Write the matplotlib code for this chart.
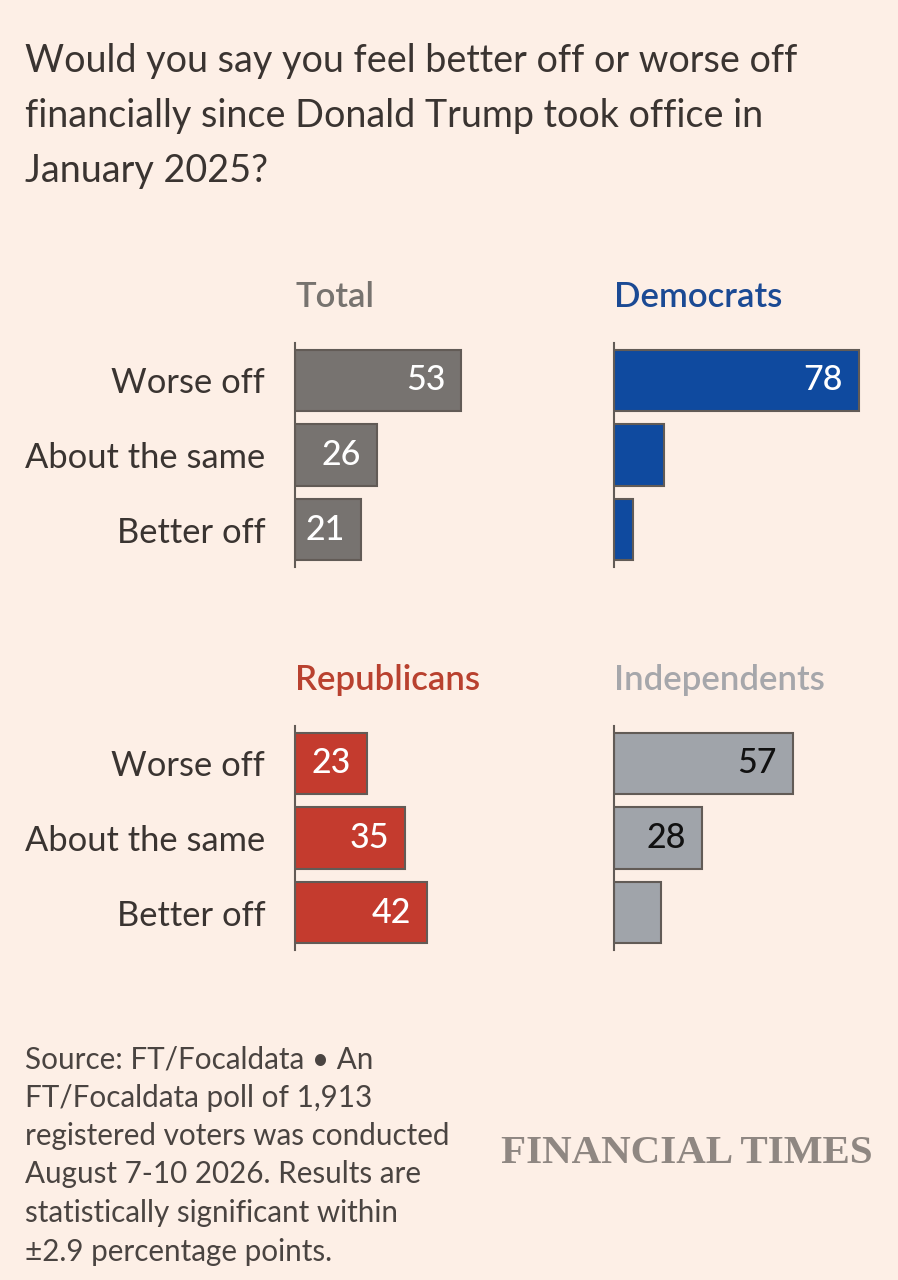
import matplotlib
matplotlib.use("Agg")
import matplotlib.pyplot as plt

# data
categories = ["Worse off", "About the same", "Better off"]
groups = ["Total", "Democrats", "Republicans", "Independents"]
total = [53, 26, 21]
democrats = [78, 16, 6]
republicans = [23, 35, 42]
independents = [57, 28, 15]

title_lines = ["Would you say you feel better off or worse off",
               "financially since Donald Trump took office in",
               "January 2025?"]
source_lines = ["Source: FT/Focaldata \u2022 An",
                "FT/Focaldata poll of 1,913",
                "registered voters was conducted",
                "August 7-10 2026. Results are",
                "statistically significant within",
                "\u00b12.9 percentage points."]

BG = "#fdefe6"
EDGE = "#625b56"
bar_colors = ["#777370", "#0f4a9f", "#c43b2e", "#a0a4aa"]
head_colors = ["#77736f", "#1b4a94", "#b9412f", "#a6a7ab"]
label_colors = ["white", "white", "white", "#111111"]

W, H = 898, 1280
plt.rcParams["font.family"] = ["Lato", "DejaVu Sans"]

fig = plt.figure(figsize=(W / 100, H / 100), dpi=100, facecolor=BG)

def px(x, y):
    return x / W, 1 - y / H

for i, line in enumerate(title_lines):
    fig.text(*px(25, 72 + 55 * i), line, fontsize=27.2, color="#3a3431",
             va="baseline", ha="left")

series = [total, democrats, republicans, independents]
lefts = [295, 614, 295, 614]
tops = [343, 343, 726, 726]
ax_w, ax_h = 270, 224
scale = 3.14  # pixels per percentage point

for k, vals in enumerate(series):
    l, t = lefts[k], tops[k]
    ax = fig.add_axes([l / W, 1 - (t + ax_h) / H, ax_w / W, ax_h / H])
    ax.set_facecolor(BG)
    ypos = range(len(categories))
    ax.barh(ypos, vals, height=0.82, color=bar_colors[k], edgecolor=EDGE,
            linewidth=1.5, zorder=2)
    ax.set_xlim(0, ax_w / scale)
    ax.set_ylim(2.5, -0.5)
    for s in ["top", "right", "bottom"]:
        ax.spines[s].set_visible(False)
    ax.spines["left"].set_color(EDGE)
    ax.spines["left"].set_linewidth(1.5)
    ax.spines["left"].set_zorder(3)
    ax.set_xticks([])
    ax.set_yticks(list(ypos))
    if k % 2 == 0:
        ax.set_yticklabels(categories, fontsize=24.8, color="#3a3431")
        ax.tick_params(axis="y", length=0, pad=21.5)
    else:
        ax.set_yticklabels([])
        ax.tick_params(axis="y", length=0)
    for y, v in zip(ypos, vals):
        if v >= 20:
            ax.annotate(str(v), (v, y), xytext=(-11.5, 0),
                        textcoords="offset points", ha="right", va="center",
                        fontsize=24.5, fontweight="medium",
                        color=label_colors[k], zorder=4)
    fig.text(*px(l, t - 36), groups[k], fontsize=25, fontweight="semibold",
             color=head_colors[k], va="baseline", ha="left")

for i, line in enumerate(source_lines):
    fig.text(*px(25, 1068 + 38.5 * i), line, fontsize=21.3, color="#4a4441",
             va="baseline", ha="left")

fig.text(*px(873, 1163), "FINANCIAL TIMES", fontsize=29.5, fontweight="bold",
         family=["Liberation Serif", "DejaVu Serif"], color="#8f8782",
         va="baseline", ha="right")

fig.savefig("out.png", dpi=100, facecolor=BG)
